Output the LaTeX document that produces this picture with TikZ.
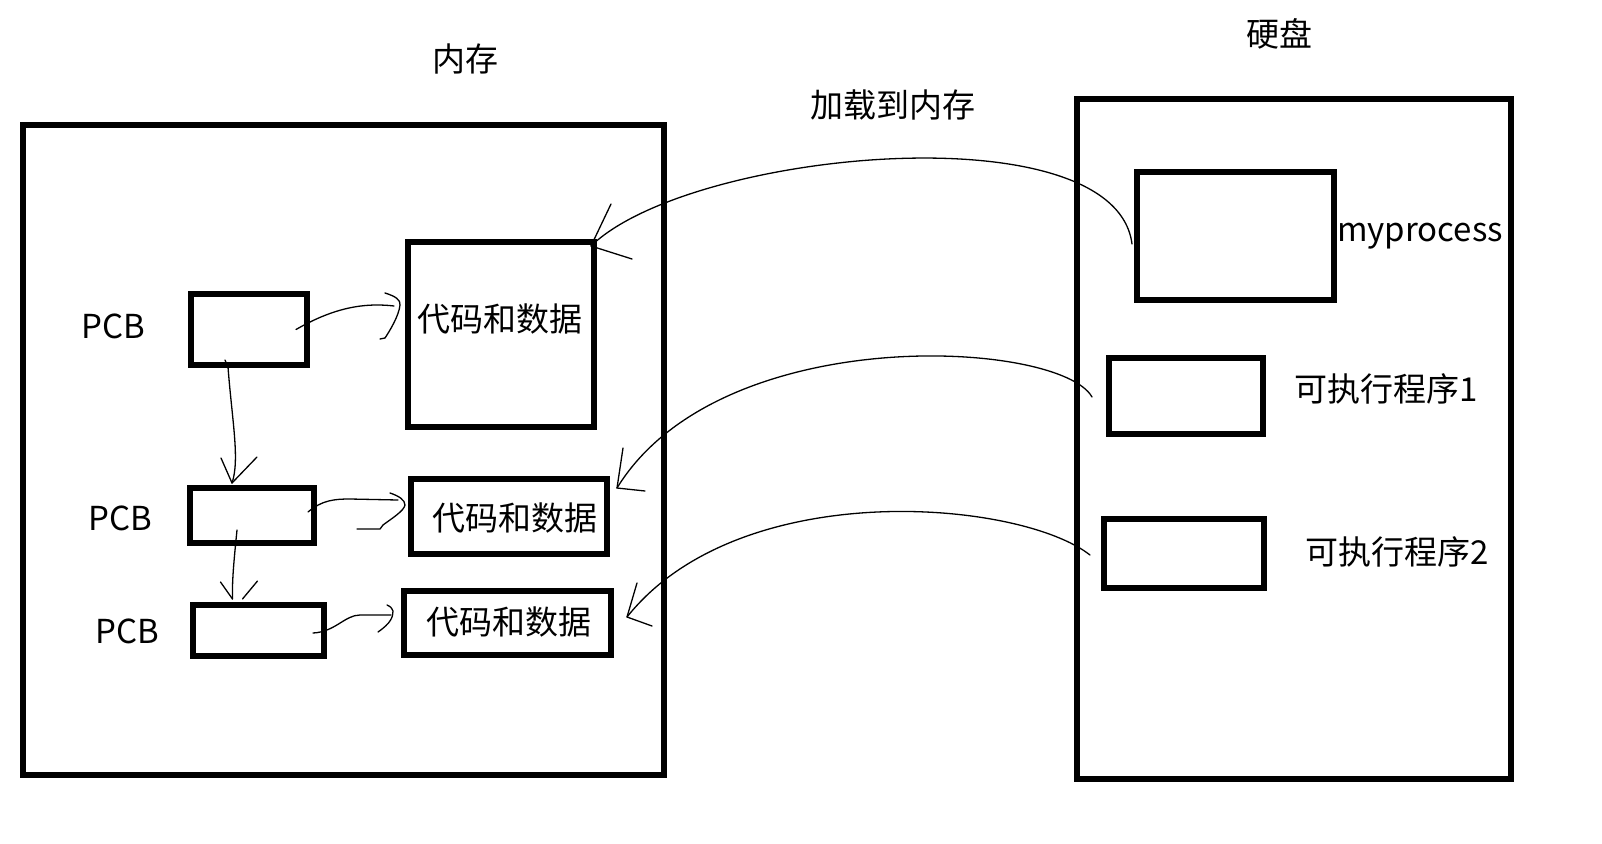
\documentclass[tikz,border=0pt]{standalone}
\usepackage{fontspec}
\setmainfont{Noto Sans CJK SC}
\begin{document}
\begin{tikzpicture}[x=1pt,y=-1pt,
  box/.style={draw, line width=6pt, inner sep=0pt, outer sep=3pt},
  lbl/.style={inner sep=0pt, font=\fontsize{33}{40}\selectfont},
  conn/.style={line width=1.3pt, line cap=round, line join=round}]
\useasboundingbox (0,0) rectangle (1602,843);
\fill[white] (0,0) rectangle (1602,843);

% titles
\node[lbl] (tmem) at (465,59) {内存};
\node[lbl] (tdisk) at (1279,34) {硬盘};
\node[lbl] (tload) at (893,105) {加载到内存};

% outer boxes
\node[box, minimum width=641, minimum height=650] (mem) at (343.5,450) {};
\node[box, minimum width=434, minimum height=680] (disk) at (1294,439) {};

% memory contents
\node[box, minimum width=116, minimum height=71] (pcb1) at (249,329.5) {};
\node[box, minimum width=186, minimum height=185] (code1) at (501,334.5) {};
\node[box, minimum width=124, minimum height=55] (pcb2) at (252,515.5) {};
\node[box, minimum width=196, minimum height=75] (code2) at (509,516.5) {};
\node[box, minimum width=131, minimum height=51] (pcb3) at (258.5,630.5) {};
\node[box, minimum width=207, minimum height=64] (code3) at (507.5,623) {};

\node[lbl] (lp1) at (113,326) {PCB};
\node[lbl] (lp2) at (120,518) {PCB};
\node[lbl] (lp3) at (127,631) {PCB};
\node[lbl] (lc1) at (500,319) {代码和数据};
\node[lbl] (lc2) at (515,518) {代码和数据};
\node[lbl] (lc3) at (509,622) {代码和数据};

% disk contents
\node[box, minimum width=197, minimum height=128] (mp) at (1235.5,236) {};
\node[box, minimum width=154, minimum height=76] (exe1) at (1186,396) {};
\node[box, minimum width=160, minimum height=69] (exe2) at (1184,553.5) {};

\node[lbl, anchor=base west] (lmp) at (1337,241) {myprocess};
\node[lbl] (le1) at (1386,389) {可执行程序1};
\node[lbl] (le2) at (1397,552) {可执行程序2};

% long curves disk -> memory
\coordinate (tip1) at ([shift={(-6,7)}]code1.north east);
\draw[conn] ([shift={(-2,8)}]mp.west) .. controls (1115,110) and (690,150) .. (tip1);
\draw[conn] ([shift={(20,-42)}]tip1) -- (tip1) -- ([shift={(41,13)}]tip1);

\coordinate (tip2) at ([shift={(7,12)}]code2.north east);
\draw[conn] ([shift={(-14,1)}]exe1.west) .. controls (1060,340) and (720,320) .. (tip2);
\draw[conn] ([shift={(6,-40)}]tip2) -- (tip2) -- ([shift={(28,3)}]tip2);

\coordinate (tip3) at ([shift={(13,-6)}]code3.east);
\draw[conn] ([shift={(-11,1.5)}]exe2.west) .. controls (1020,500) and (740,475) .. (tip3);
\draw[conn] ([shift={(10,-34)}]tip3) -- (tip3) -- ([shift={(25,9)}]tip3);

% PCB -> code
\coordinate (tipA) at ([shift={(-6,-28.5)}]code1.west);
\draw[conn] ([xshift=-14]pcb1.east) .. controls (330,310) and (360,302) .. ([shift={(-5,0)}]tipA);
\draw[conn, shift={(tipA)}] (-14,-13) .. controls (-4,-10) and (2,-6) .. (1,-1)
  .. controls (0,10) and (-10,26) .. (-14,32) -- (-19,33);

\coordinate (tipB) at ([shift={(-3,-11.5)}]code2.west);
\draw[conn] ([shift={(-9,-3.5)}]pcb2.east) .. controls (322,500) and (335,499) .. (350,499) -- ([shift={(-7,-5)}]tipB);
\draw[conn, shift={(tipB)}] (-15,-12) .. controls (-6,-9) and (0,-5) .. (0,0)
  .. controls (-1,6) and (-14,14) .. (-22,20) -- (-25,24) -- (-48,24);

\coordinate (tipC) at ([shift={(-8,-11)}]code3.west);
\draw[conn] ([shift={(-14,2.5)}]pcb3.east) .. controls (335,632) and (345,615) .. (360,615) -- ([shift={(-2,3)}]tipC);
\draw[conn, shift={(tipC)}] (-6,-7) .. controls (-2,-5) .. (0,-1)
  .. controls (0,5) and (-2,11) .. (-15,20);

% PCB -> PCB
\coordinate (tipV1) at ([shift={(-20,-2)}]pcb2.north);
\draw[conn] ([shift={(-24,-8)}]pcb1.south) -- ++(3,7) .. controls (232,420) and (240,460) .. (tipV1);
\draw[conn] ([shift={(-11,-25)}]tipV1) -- (tipV1) -- ([shift={(25,-26)}]tipV1);

\coordinate (tipV2) at ([shift={(-26,-3)}]pcb3.north);
\draw[conn] ([shift={(-15,-16)}]pcb2.south) .. controls (234,560) and (232,580) .. (tipV2);
\draw[conn] ([shift={(-12,-17)}]tipV2) -- (tipV2);
\draw[conn] ([shift={(10,0)}]tipV2) -- ([shift={(25,-18)}]tipV2);
\end{tikzpicture}
\end{document}
